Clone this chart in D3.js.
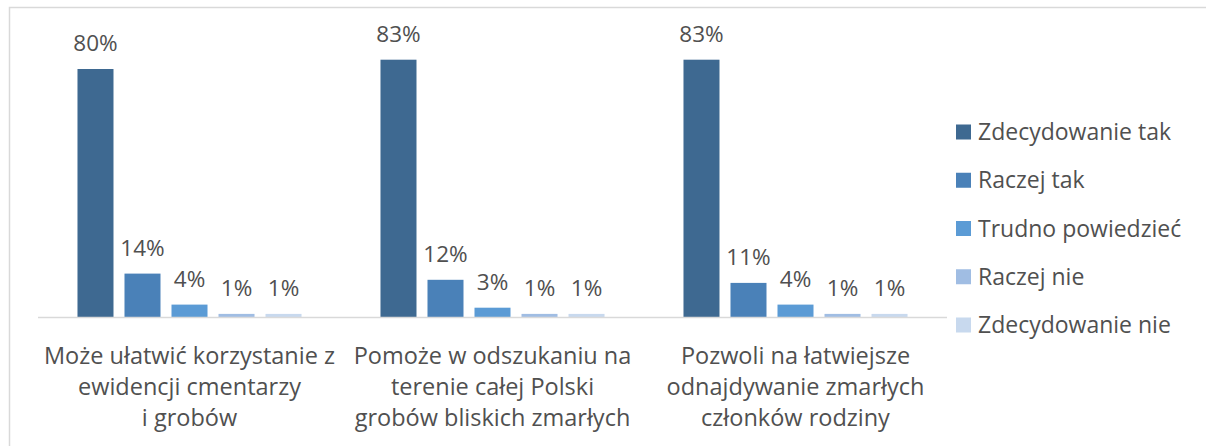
<!DOCTYPE html>
<html>
<head>
<meta charset="utf-8">
<script src="https://cdn.jsdelivr.net/npm/d3@7"></script>
<style>
  body { margin: 0; background: #fff; }
  svg text { font-family: "Open Sans", sans-serif; fill: #505050; }
</style>
</head>
<body>
<div id="chart"></div>
<script>
// categories (each label broken into lines like the original)
var categories = [
  ["Może ułatwić korzystanie z", "ewidencji cmentarzy", "i grobów"],
  ["Pomoże w odszukaniu na", "terenie całej Polski", "grobów bliskich zmarłych"],
  ["Pozwoli na łatwiejsze", "odnajdywanie zmarłych", "członków rodziny"]
];
var seriesNames = ["Zdecydowanie tak", "Raczej tak", "Trudno powiedzieć", "Raczej nie", "Zdecydowanie nie"];
var seriesColors = ["#3e6991", "#4a81b8", "#5b9bd5", "#a0bde3", "#c8d9ee"];

// values per series, one per category (%)
var zdecydowanieTak = [80, 83, 83];
var raczejTak = [14, 12, 11];
var trudnoPowiedziec = [4, 3, 4];
var raczejNie = [1, 1, 1];
var zdecydowanieNie = [1, 1, 1];
var seriesValues = [zdecydowanieTak, raczejTak, trudnoPowiedziec, raczejNie, zdecydowanieNie];

var width = 1206, height = 446;

var svg = d3.select("#chart").append("svg")
  .attr("width", width)
  .attr("height", height);

// chart frame (only top/left edges fall inside the picture)
svg.append("rect")
  .attr("x", 9.5).attr("y", 7.5)
  .attr("width", 1400).attr("height", 600)
  .attr("fill", "none")
  .attr("stroke", "#d9d9d9")
  .attr("stroke-width", 1.5);

var x0 = d3.scaleBand()
  .domain(d3.range(categories.length))
  .range([38, 947]);

var x1 = d3.scaleBand()
  .domain(d3.range(seriesNames.length))
  .range([0, x0.bandwidth()])
  .paddingInner(0.234)
  .paddingOuter(0.84);

var y = d3.scaleLinear()
  .domain([0, 100])
  .range([317, 7]);

var rows = [];
categories.forEach(function(c, ci) {
  seriesValues.forEach(function(vals, si) {
    rows.push({cat: ci, series: si, value: vals[ci]});
  });
});

var bars = svg.append("g");

bars.selectAll("rect")
  .data(rows)
  .enter()
  .append("rect")
  .attr("x", d => x0(d.cat) + x1(d.series))
  .attr("y", d => y(d.value))
  .attr("width", x1.bandwidth())
  .attr("height", d => y(0) - y(d.value))
  .attr("fill", d => seriesColors[d.series]);

// baseline
svg.append("line")
  .attr("x1", 38).attr("x2", 947)
  .attr("y1", y(0) + 0.5).attr("y2", y(0) + 0.5)
  .attr("stroke", "#d9d9d9")
  .attr("stroke-width", 1.5);

// data labels
bars.selectAll("text")
  .data(rows)
  .enter()
  .append("text")
  .attr("x", d => x0(d.cat) + x1(d.series) + x1.bandwidth() / 2)
  .attr("y", d => y(d.value) - 18)
  .attr("text-anchor", "middle")
  .attr("font-size", 22.5)
  .text(d => d.value + "%");

// category labels
var catG = svg.append("g");
categories.forEach(function(lines, ci) {
  var t = catG.append("text")
    .attr("text-anchor", "middle")
    .attr("font-size", 23.5)
    .attr("x", x0(ci) + x0.bandwidth() / 2)
    .attr("y", 364);
  lines.forEach(function(line, li) {
    t.append("tspan")
      .attr("x", x0(ci) + x0.bandwidth() / 2)
      .attr("dy", li === 0 ? 0 : 31)
      .text(line);
  });
});

// legend
var legend = svg.append("g");
var legendY = d3.scalePoint()
  .domain(d3.range(seriesNames.length))
  .range([132, 325]);

var item = legend.selectAll("g")
  .data(seriesNames)
  .enter()
  .append("g")
  .attr("transform", (d, i) => "translate(956," + legendY(i) + ")");

item.append("rect")
  .attr("x", 0).attr("y", -7.5)
  .attr("width", 15).attr("height", 15)
  .attr("fill", (d, i) => seriesColors[i]);

item.append("text")
  .attr("x", 22)
  .attr("y", 8)
  .attr("font-size", 23)
  .text(d => d);
</script>
</body>
</html>
